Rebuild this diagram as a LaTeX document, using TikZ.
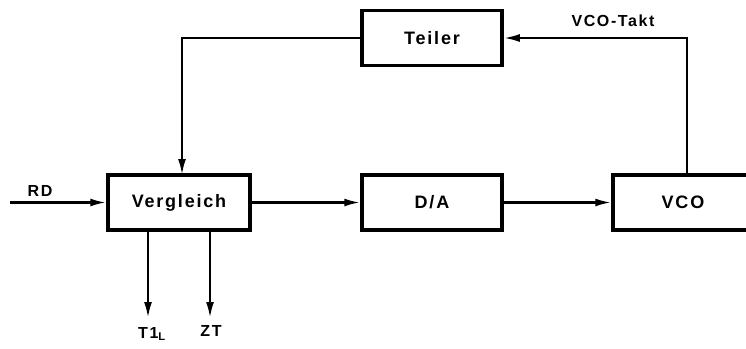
\documentclass[tikz,border=0pt]{standalone}
\usepackage{fontspec}
\setmainfont[LetterSpace=10]{Liberation Sans}
\usetikzlibrary{arrows.meta}
\tikzset{
  blk/.style={draw, line width=3.5pt, minimum width=140pt, minimum height=55pt, inner sep=0pt, font=\fontsize{18}{20}\selectfont\bfseries},
  arr/.style={line width=2.4pt, -{Latex[length=16pt,width=8pt]}},
  lbl/.style={font=\fontsize{16}{18}\selectfont\bfseries, inner sep=0pt}
}
\begin{document}
\begin{tikzpicture}[x=1pt,y=-1pt]
\useasboundingbox (0,0) rectangle (746,348);
\clip (0,0) rectangle (746,348);
\node[blk] (teiler) at (432,38) {Teiler};
\node[blk, minimum width=142pt] (verg) at (179,202.5) {Vergleich};
\node[blk] (da) at (432,202.5) {D/A};
\node[blk] (vco) at (683,202.5) {VCO};
\coordinate (rd) at (10,202.5);
\coordinate (t1) at (148,318);
\coordinate (zt) at (210,318);
\coordinate (vcotop) at (687,175);
\coordinate (vergtop) at (182,175);
\draw[arr] (rd) -- (verg.west);
\draw[arr] (verg.east) -- (da.west);
\draw[arr] (da.east) -- (vco.west);
\draw[arr] (vcotop) |- (teiler.east);
\draw[arr] (teiler.west) -| (vergtop);
\draw[arr] (verg.south -| t1) -- (t1);
\draw[arr] (verg.south -| zt) -- (zt);
\node[lbl] (rdl) at (40,191) {RD};
\node[lbl] (takt) at (613,21) {VCO-Takt};
\node[lbl] (t1l) at (152,334) {T1\textsubscript{L}};
\node[lbl] (ztl) at (211,331) {ZT};
\end{tikzpicture}
\end{document}
